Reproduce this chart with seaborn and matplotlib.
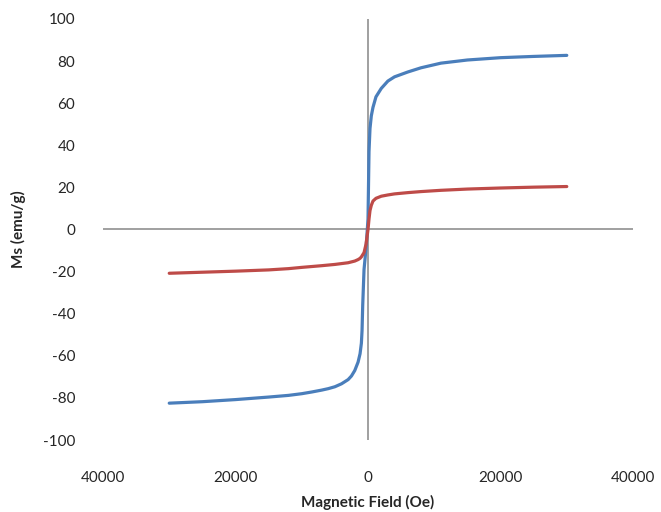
import matplotlib
matplotlib.use("Agg")
import matplotlib.pyplot as plt
import seaborn as sns
import pandas as pd

# Magnetisation loops of two samples (field in Oe, Ms in emu/g)
field = [-30000, -25000, -20000, -15000, -12000, -10000, -8500, -7000,
         -6000, -5000, -4000, -3000, -2500, -2000, -1500, -1200, -1000, -900,
         -800, -600, -300, 0, 150, 300, 500, 750, 1200, 2000, 3000, 4000,
         6000, 8000, 11000, 15000, 20000, 25000, 30000]
ms_blue = [-82.5, -81.8, -80.8, -79.6, -78.8, -78.0, -77.2, -76.3,
           -75.6, -74.7, -73.3, -71.3, -69.6, -67.0, -63.0, -59.0, -54.0, -48.0,
           -36.0, -19.0, -9.0, 5.0, 37.0, 48.0, 54.0, 58.0, 63.0, 67.0, 70.5, 72.5,
           74.8, 76.8, 79.0, 80.5, 81.6, 82.2, 82.7]
ms_red = [-20.8, -20.3, -19.8, -19.2, -18.6, -18.0, -17.6, -17.2,
          -16.9, -16.6, -16.2, -15.8, -15.4, -15.0, -14.3, -13.7, -13.0, -12.5,
          -12.0, -11.0, -7.0, 0.0, 5.0, 9.0, 11.5, 13.5, 14.8, 15.8, 16.4, 16.9,
          17.5, 18.0, 18.6, 19.2, 19.7, 20.1, 20.4]

x_ticks = [-40000, -20000, 0, 20000, 40000]
x_tick_labels = ["40000", "20000", "0", "20000", "40000"]
y_ticks = [100, 80, 60, 40, 20, 0, -20, -40, -60, -80, -100]
y_tick_labels = ["100", "80", "60", "40", "20", "0", "-20", "-40", "-60", "-80", "-100"]

df = pd.concat([
    pd.DataFrame({"field": field, "ms": ms_blue, "sample": "A"}),
    pd.DataFrame({"field": field, "ms": ms_red, "sample": "B"}),
])

sns.set_theme(style="white")
plt.rcParams["font.family"] = ["Lato", "DejaVu Sans"]

fig = plt.figure(figsize=(6.61, 5.12), dpi=100)
ax = fig.add_axes([0.1558, 0.1406, 0.8019, 0.8224])

ax.axhline(0, color="#868686", lw=1.1, zorder=1)
ax.axvline(0, color="#868686", lw=1.1, zorder=1)

sns.lineplot(data=df, x="field", y="ms", hue="sample", sort=False,
             palette={"A": "#4A7EBB", "B": "#BE4B48"}, lw=2.3,
             legend=False, ax=ax, zorder=3)

ax.set_xlim(-40000, 40000)
ax.set_ylim(-100, 100)
ax.set_xticks(x_ticks)
ax.set_xticklabels(x_tick_labels)
ax.set_yticks(y_ticks)
ax.set_yticklabels(y_tick_labels)
for s in ax.spines.values():
    s.set_visible(False)
ax.tick_params(axis="both", length=0, labelsize=11, colors="#262626")
ax.tick_params(axis="y", pad=20)
ax.tick_params(axis="x", pad=22)

ax.set_xlabel("Magnetic Field (Oe)", fontsize=11, fontweight="bold", color="#262626")
ax.set_ylabel("Ms (emu/g)", fontsize=11, fontweight="bold", color="#262626")
ax.xaxis.set_label_coords(0.5, -0.131)
ax.yaxis.set_label_coords(-0.145, 0.5)

fig.savefig("out.png", dpi=100, facecolor="white")
